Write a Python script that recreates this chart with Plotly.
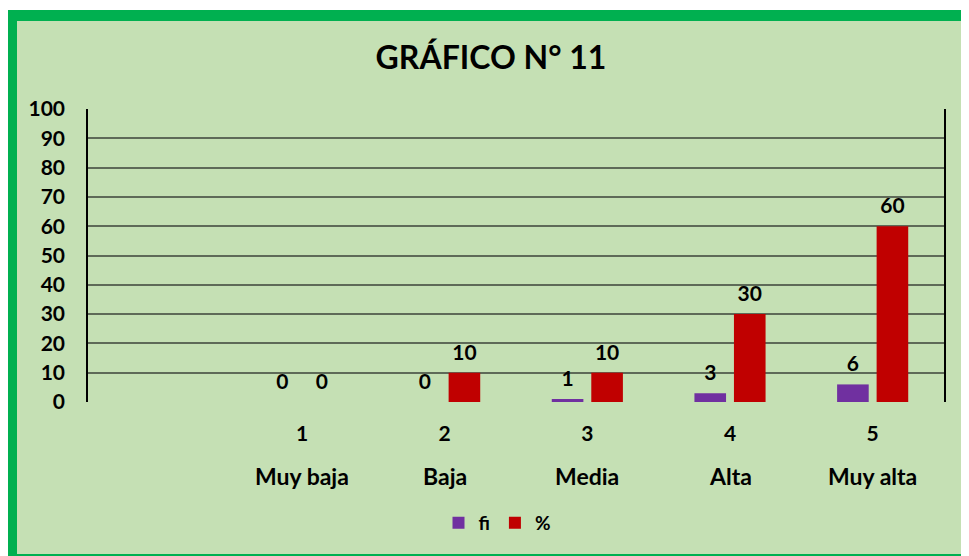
import plotly.graph_objects as go

# Data
categories = [1, 2, 3, 4, 5]
tick_numbers = ["1", "2", "3", "4", "5"]
level_names = ["Muy baja", "Baja", "Media", "Alta", "Muy alta"]
fi_values = [0, 0, 1, 3, 6]
pct_values = [0, 10, 10, 30, 60]
y_ticks = [0, 10, 20, 30, 40, 50, 60, 70, 80, 90, 100]

W, H = 969, 556
OFF = 8  # page body margin
# plot area in page pixels: x 88..944, y 109..402
L = 88 - OFF
T = 109 - OFF
R = W - (944 - OFF)
B = H - (402 - OFF)
FONT = "Lato"
plot_w = W - L - R
plot_h = H - T - B

def px_x(px):
    return (px - OFF - L) / plot_w

def px_y(py):
    return (H - B - (py - OFF)) / plot_h

label_tmpl = "<span style='font-size:21px'>%{y}</span><br> "

fig = go.Figure()
fig.add_trace(go.Bar(
    x=categories, y=fi_values, name="fi",
    marker=dict(color="#7030A0", line=dict(width=0)),
    texttemplate=label_tmpl, textposition="outside",
    textfont=dict(family=FONT, size=7, color="black", weight="bold"),
    cliponaxis=False,
))
fig.add_trace(go.Bar(
    x=categories, y=pct_values, name="%",
    marker=dict(color="#C00000", line=dict(width=0)),
    texttemplate=label_tmpl, textposition="outside",
    textfont=dict(family=FONT, size=7, color="black", weight="bold"),
    cliponaxis=False,
))

shapes = [
    dict(type="rect", xref="paper", yref="paper", layer="below",
         x0=px_x(7), x1=px_x(990), y0=px_y(580), y1=px_y(10),
         fillcolor="#00B050", line=dict(width=0)),
    dict(type="rect", xref="paper", yref="paper", layer="below",
         x0=px_x(17), x1=px_x(970), y0=px_y(554), y1=px_y(21),
         fillcolor="#C5E0B4", line=dict(width=0)),
]

annotations = [
    dict(x=c, y=px_y(476), xref="x", yref="paper", text=n, showarrow=False,
         xanchor="center", yanchor="middle",
         font=dict(family=FONT, size=23, color="black", weight="bold"))
    for c, n in zip(categories, level_names)
]

fig.update_layout(
    width=W, height=H,
    margin=dict(l=L, r=R, t=T, b=B, pad=0),
    paper_bgcolor="white",
    plot_bgcolor="rgba(0,0,0,0)",
    shapes=shapes,
    annotations=annotations,
    barmode="group",
    bargap=0.446,
    bargroupgap=0.2,
    title=dict(text="GRÁFICO N° 11", x=(491 - OFF) / W, xref="container", xanchor="center",
               y=1 - (58 - OFF) / H, yref="container", yanchor="middle",
               font=dict(family=FONT, size=32, color="black", weight="bold")),
    showlegend=True,
    legend=dict(orientation="h", x=px_x(497), xanchor="center", y=px_y(523), yanchor="middle",
                font=dict(family=FONT, size=19, color="black", weight="bold"),
                bgcolor="rgba(0,0,0,0)", itemwidth=30, traceorder="normal"),
    xaxis=dict(range=[-0.5, 5.5], tickvals=categories, ticktext=tick_numbers,
               showgrid=False, zeroline=False, showline=False,
               ticks="outside", ticklen=0, ticklabelstandoff=13,
               tickfont=dict(family=FONT, size=21, color="black", weight="bold")),
    yaxis=dict(range=[0, 100], tickvals=y_ticks,
               showgrid=True, gridcolor="#5E6A58", gridwidth=1.5,
               zeroline=False, showline=True, linecolor="black", linewidth=1.5, mirror=True,
               ticks="outside", ticklen=0, ticklabelstandoff=17,
               tickfont=dict(family=FONT, size=21, color="black", weight="bold")),
)

fig.write_html("out.html")
